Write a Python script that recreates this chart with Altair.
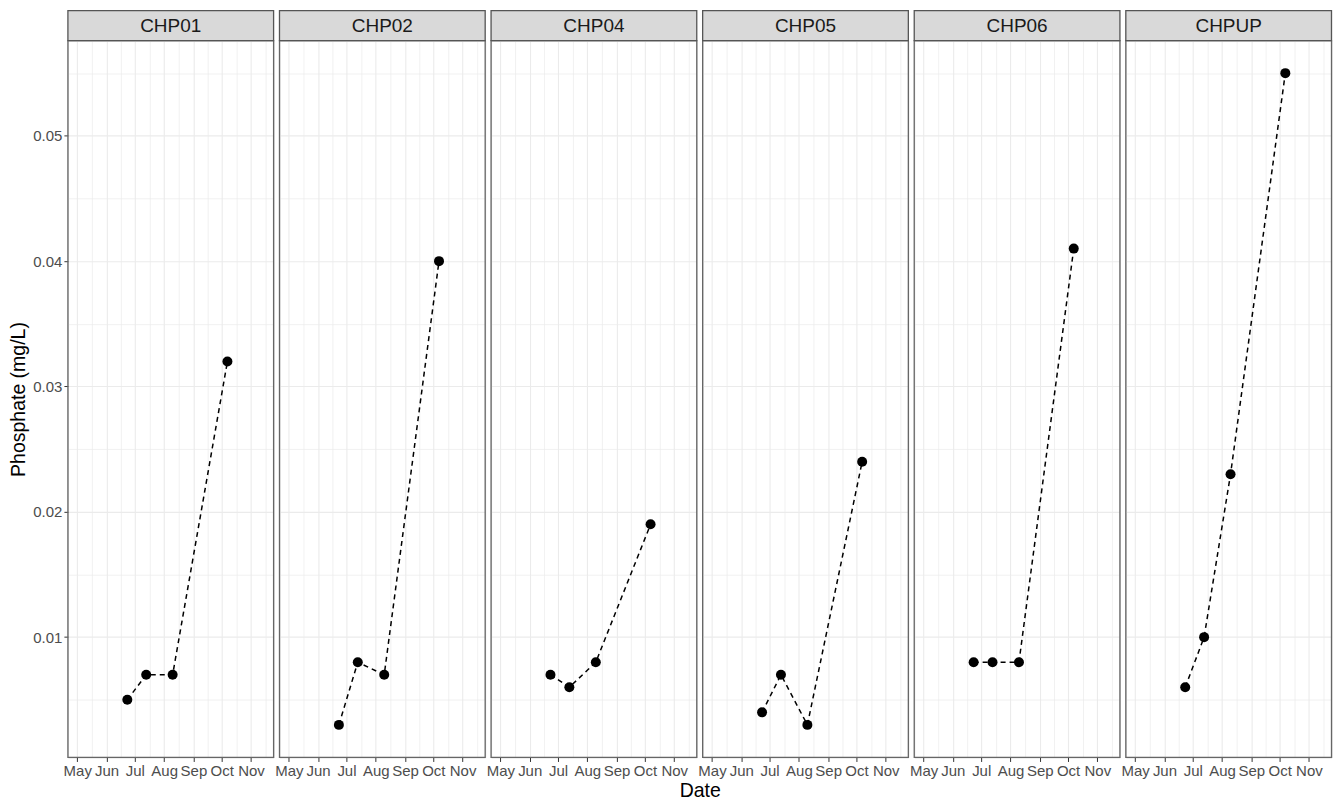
import altair as alt
import pandas as pd

SITES = ["CHP01", "CHP02", "CHP04", "CHP05", "CHP06", "CHPUP"]
DATES = ["2023-06-23", "2023-07-13", "2023-08-10", "2023-10-07"]
CHP01 = [0.005, 0.007, 0.007, 0.032]
CHP02 = [0.003, 0.008, 0.007, 0.040]
CHP04 = [0.007, 0.006, 0.008, 0.019]
CHP05 = [0.004, 0.007, 0.003, 0.024]
CHP06 = [0.008, 0.008, 0.008, 0.041]
CHPUP = [0.006, 0.010, 0.023, 0.055]
VALUES = {"CHP01": CHP01, "CHP02": CHP02, "CHP04": CHP04,
          "CHP05": CHP05, "CHP06": CHP06, "CHPUP": CHPUP}

MONTH_STARTS = ["2023-05-01", "2023-06-01", "2023-07-01", "2023-08-01",
                "2023-09-01", "2023-10-01", "2023-11-01", "2023-12-01"]
Y_BREAKS = [0.005, 0.01, 0.015, 0.02, 0.025, 0.03, 0.035, 0.04, 0.045, 0.05, 0.055]

rows = []
for s in SITES:
    for d, v in zip(DATES, VALUES[s]):
        rows.append({"site": s, "date": d, "phosphate": v})
df = pd.DataFrame(rows)

ms = [pd.Timestamp(m, tz="UTC").value // 10**6 for m in MONTH_STARTS]
x_values = []
for i in range(len(ms) - 1):
    x_values.append(ms[i])
    x_values.append((ms[i] + ms[i + 1]) // 2)

W, H = 206, 718
GRID = "#EBEBEB"
FONT = "Liberation Sans"

x_major = "utcdate(datum.value) == 1"
y_major = "round(datum.value * 1000) % 10 == 0"

x_scale = alt.Scale(type="utc",
                    domain=[alt.DateTime(year=2023, month=4, date=21, hours=2, minutes=24, utc=True),
                            alt.DateTime(year=2023, month=11, date=24, hours=21, minutes=36, utc=True)])
y_scale = alt.Scale(domain=[0.0004, 0.0576], nice=False, zero=False)


def panel(i, site):
    d = df[df["site"] == site]
    xaxis_kw = dict(
        values=x_values,
        labelExpr=f"{x_major} ? utcFormat(datum.value, '%b') : ''",
        labelOverlap=False, labelFlush=False,
        labelFontSize=15, labelColor="#4D4D4D", labelFont=FONT, labelPadding=2,
        tickSize=4, tickColor="#333333",
        tickOpacity={"condition": {"test": x_major, "value": 1}, "value": 0},
        grid=True, gridColor=GRID,
        gridWidth={"condition": {"test": x_major, "value": 1.1}, "value": 0.7},
        domain=False,
    )
    if i == 2:
        xaxis = alt.Axis(title="Date", titleX=W + 3, titleFontSize=19.5, titleFont=FONT,
                         titleFontWeight="normal", titleColor="#000000", titlePadding=3, **xaxis_kw)
    else:
        xaxis = alt.Axis(title=None, **xaxis_kw)
    ygrid = dict(values=Y_BREAKS, grid=True, gridColor=GRID,
                 gridWidth={"condition": {"test": y_major, "value": 1.1}, "value": 0.7},
                 domain=False)
    if i == 0:
        yaxis = alt.Axis(title="Phosphate (mg/L)", titleFontSize=19.5, titleFont=FONT,
                         titleFontWeight="normal", titleColor="#000000", titlePadding=4,
                         labelExpr=f"{y_major} ? format(datum.value, '.2f') : ''",
                         labelFontSize=15, labelColor="#4D4D4D", labelFont=FONT, labelPadding=2,
                         tickSize=4, tickColor="#333333",
                         tickOpacity={"condition": {"test": y_major, "value": 1}, "value": 0},
                         **ygrid)
    else:
        yaxis = alt.Axis(title=None, labels=False, ticks=False, **ygrid)

    base = alt.Chart(d).encode(
        x=alt.X("date:T", scale=x_scale, axis=xaxis),
        y=alt.Y("phosphate:Q", scale=y_scale, axis=yaxis),
    )
    line = base.mark_line(color="#000000", strokeDash=[5, 4], strokeWidth=1.5)
    pts = base.mark_point(filled=True, color="#000000", opacity=1, size=100)
    strip_data = alt.Data(values=[{"site": site}])
    border = alt.Chart(strip_data).mark_rect(fill="transparent", stroke="#666666", strokeWidth=1.3).encode(
        x=alt.value(0), x2=alt.value(W), y=alt.value(0), y2=alt.value(H))
    strip = alt.Chart(strip_data).mark_rect(fill="#D9D9D9", stroke="#555555", strokeWidth=1.3).encode(
        x=alt.value(0), x2=alt.value(W), y=alt.value(-30), y2=alt.value(0))
    label = alt.Chart(strip_data).mark_text(fontSize=19, font=FONT, color="#1A1A1A",
                                            baseline="middle", align="center").encode(
        x=alt.value(W / 2), y=alt.value(-15), text="site:N")
    return alt.layer(line, pts, border, strip, label).properties(width=W, height=H)


chart = alt.hconcat(*[panel(i, s) for i, s in enumerate(SITES)], spacing=5.9, bounds="flush").properties(
    padding={"left": 0, "top": 0, "right": 0, "bottom": 0}
).configure_view(strokeWidth=0).configure(background="#FFFFFF")

chart.save("out.html", embed_options={"renderer": "svg", "actions": False})
